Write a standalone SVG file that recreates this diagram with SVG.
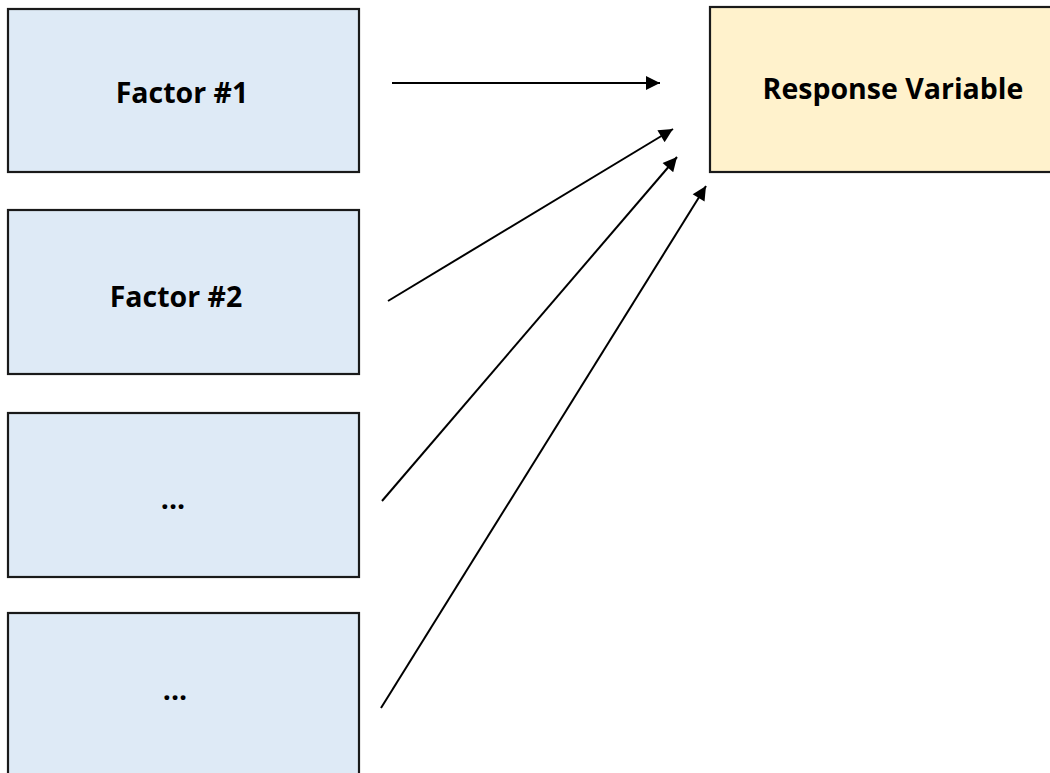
<svg xmlns="http://www.w3.org/2000/svg" width="1050" height="773" viewBox="0 0 1050 773">
<defs>
<style>
.f{fill:#DEEAF6;stroke:#1a1a1a;stroke-width:2.2}
.r{fill:#FFF2CC;stroke:#1a1a1a;stroke-width:2.2}
.t{font-family:"Open Sans","Liberation Sans",sans-serif;font-weight:bold;font-size:28.5px;fill:#000;text-anchor:middle}
.c{stroke:#000;stroke-width:2;fill:none;marker-end:url(#ah)}
</style>
<marker id="ah" viewBox="0 0 10 10" refX="10" refY="5" markerWidth="8" markerHeight="7" markerUnits="strokeWidth" orient="auto">
<path d="M0,0 L10,5 L0,10 z" fill="#000"/>
</marker>
</defs>
<rect width="1050" height="773" fill="#fff"/>
<g id="factor1"><rect class="f" x="8" y="9" width="351" height="163"/><text class="t" x="182" y="103">Factor #1</text></g>
<g id="factor2"><rect class="f" x="8" y="210" width="351" height="164"/><text class="t" x="176" y="307">Factor #2</text></g>
<g id="factor3"><rect class="f" x="8" y="413" width="351" height="164"/><text class="t" x="173" y="509">...</text></g>
<g id="factor4"><rect class="f" x="8" y="613" width="351" height="164"/><text class="t" x="175" y="700">...</text></g>
<g id="response"><rect class="r" x="710" y="7" width="350" height="165"/><text class="t" x="893" y="99">Response Variable</text></g>
<g id="connectors">
<path class="c" d="M392,83 L660,83"/>
<path class="c" d="M388,301 L673,129"/>
<path class="c" d="M382,501 L677,157"/>
<path class="c" d="M381,708 L706,186"/>
</g>
</svg>
